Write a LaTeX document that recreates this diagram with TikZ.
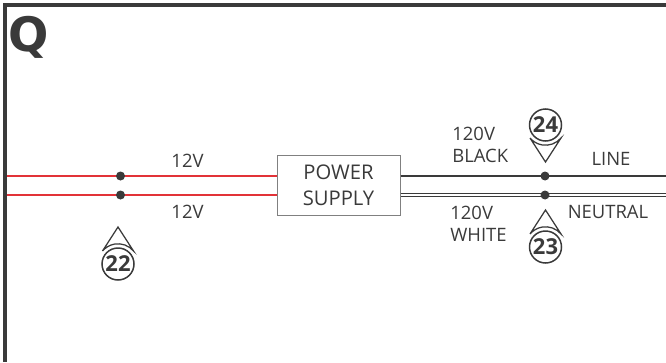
\documentclass[tikz,border=0pt]{standalone}
\usepackage{fontspec}
\setmainfont{Open Sans}
\newfontfamily\heavyfont{DejaVu Sans}
\usepackage{tikz}
\usetikzlibrary{calc,positioning}
\definecolor{wirered}{RGB}{226,50,56}
\definecolor{inkgray}{RGB}{58,58,58}
\tikzset{
	redwire/.style={line width=0.4mm, draw=wirered},
	hotwire/.style={line width=0.4mm, draw=inkgray},
	coldwire/.style={line width=0.2mm, draw=inkgray, double=white, double distance=0.35mm},
	lbl/.style={inner sep=0pt, text=inkgray, font=\fontsize{10.5}{12.5}\selectfont, align=left},
	dotnode/.style={circle, fill=inkgray, inner sep=0pt, minimum size=0.18cm},
	callout/.style={circle, draw=inkgray, line width=0.3mm, inner sep=0pt, minimum size=0.64cm, text=inkgray, font=\fontsize{12.5}{13}\selectfont\bfseries},
	headmark/.style={line width=0.25mm, draw=inkgray},
}
\def\upmark(#1){\draw[headmark] ($(#1)+(-0.31,0.26)$) -- ($(#1)+(0,0.74)$) -- ($(#1)+(0.31,0.26)$) arc (40:140:0.404);}
\def\downmark(#1){\draw[headmark] ($(#1)+(-0.31,-0.26)$) -- ($(#1)+(0,-0.74)$) -- ($(#1)+(0.31,-0.26)$) arc (-40:-140:0.404);}

\begin{document}
\begin{tikzpicture}
	%%%%% START %%%%%
	\useasboundingbox (0, 0) rectangle (13.32, 7.24);
	
	\fill[color=inkgray] (0.06, 7.18) rectangle (13.32, 7.1);
	\fill[color=inkgray] (0.06, 0) rectangle (0.14, 7.18);
	
	\node[inner sep=0pt, text=inkgray, font=\fontsize{27}{27}\heavyfont\bfseries] (title) at (0.57, 6.5) {Q};
	
	\node[draw=black!50, line width=0.2mm, minimum width=2.46cm, minimum height=1.2cm, inner sep=0pt, align=center, text=inkgray, font=\fontsize{11.5}{15}\selectfont] (supply) at (6.77, 3.54) {POWER\\SUPPLY};
	
	\coordinate (redtopend) at (0.14, 3.72);
	\coordinate (redbotend) at (0.14, 3.34);
	\coordinate (linend) at (13.32, 3.72);
	\coordinate (neutend) at (13.32, 3.34);
	
	\draw[redwire] (redtopend) -- (redtopend -| supply.west);
	\draw[redwire] (redbotend) -- (redbotend -| supply.west);
	\draw[hotwire] (linend -| supply.east) -- (linend);
	\draw[coldwire] (neutend -| supply.east) -- (neutend);
	
	\node[dotnode] (dota) at (2.41, 3.72) {};
	\node[dotnode] (dotb) at (2.41, 3.34) {};
	\node[dotnode] (dotc) at (10.9, 3.72) {};
	\node[dotnode] (dotd) at (10.9, 3.34) {};
	
	\node[lbl] (lblta) at (3.75, 4.03) {12V};
	\node[lbl] (lbltb) at (3.75, 3.0) {12V};
	\node[lbl, anchor=west] (lblblack) at (9.04, 4.34) {120V\\BLACK};
	\node[lbl, anchor=west] (lblwhite) at (9.0, 2.76) {120V\\WHITE};
	\node[lbl] (lblline) at (12.22, 4.06) {LINE};
	\node[lbl] (lblneut) at (12.16, 3.0) {NEUTRAL};
	
	\node[callout] (mka) at (2.36, 1.96) {22};
	\node[callout] (mkb) at (10.91, 2.3) {23};
	\node[callout] (mkc) at (10.91, 4.74) {24};
	\upmark(mka)
	\upmark(mkb)
	\downmark(mkc)
	
	%%%%% END %%%%%
\end{tikzpicture}
\end{document}
